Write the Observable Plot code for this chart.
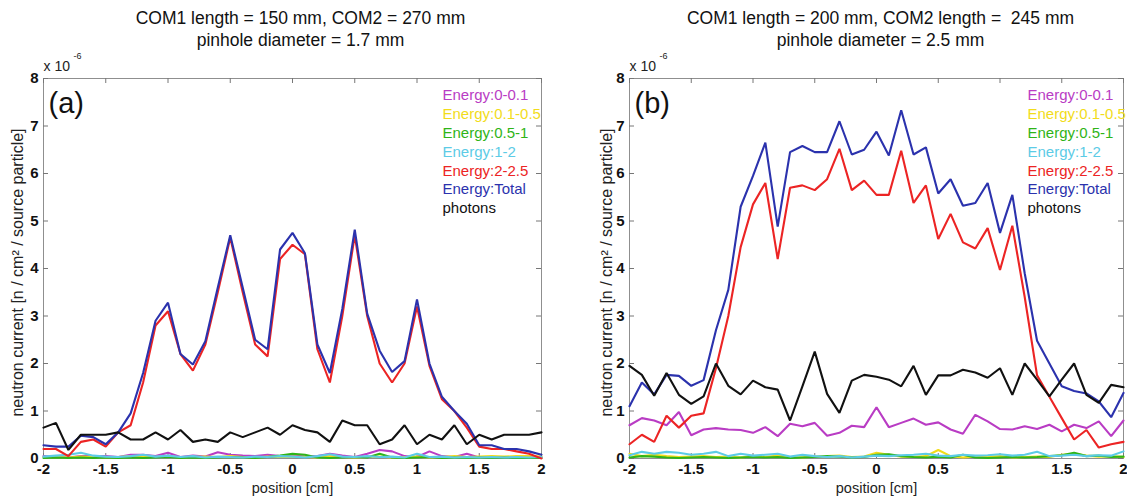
<!DOCTYPE html>
<html>
<head>
<meta charset="utf-8">
<script src="https://cdn.jsdelivr.net/npm/d3@7"></script>
<script src="https://cdn.jsdelivr.net/npm/@observablehq/plot@0.6"></script>
<style>
  body { margin: 0; background: #fff; font-family: "Liberation Sans", Arial, sans-serif; }
  #wrap { position: relative; width: 1127px; height: 499px; overflow: hidden; }
  #wrap svg { position: absolute; top: 0; overflow: visible; }
</style>
</head>
<body>
<div id="wrap"></div>
<script>
// ---------- data (values in units of 1e-6 n / cm^2 / source particle) ----------
const positions = [-2,-1.9,-1.8,-1.7,-1.6,-1.5,-1.4,-1.3,-1.2,-1.1,-1,-0.9,-0.8,-0.7,-0.6,-0.5,-0.4,-0.3,-0.2,-0.1,0,0.1,0.2,0.3,0.4,0.5,0.6,0.7,0.8,0.9,1,1.1,1.2,1.3,1.4,1.5,1.6,1.7,1.8,1.9,2];

const seriesNames = ["Energy:0-0.1","Energy:0.1-0.5","Energy:0.5-1","Energy:1-2","Energy:2-2.5","Energy:Total","photons"];
const seriesColors = ["#b93cc4","#f2dc1a","#2fb417","#5ccbe6","#ec2424","#2b32ad","#111111"];

const xTicks = [-2,-1.5,-1,-0.5,0,0.5,1,1.5,2];
const xTickLabels = ["-2","-1.5","-1","-0.5","0","0.5","1","1.5","2"];
const yTicks = [0,1,2,3,4,5,6,7,8];
const yTickLabels = ["0","1","2","3","4","5","6","7","8"];

// Panel (a)
const aE0 = [0.05,0.03,0.02,0.05,0.05,0.05,0.03,0.08,0.08,0.05,0.12,0.03,0.06,0.04,0.13,0.08,0.06,0.05,0.08,0.05,0.06,0.04,0.05,0.1,0.06,0.03,0.1,0.18,0.15,0.05,0.03,0.15,0.05,0.03,0.1,0.02,0.02,0.02,0.02,0.02,0.02];
const aE1 = [0.03,0.03,0.02,0.04,0.03,0.02,0.03,0.05,0.04,0.03,0.05,0.02,0.03,0.04,0.03,0.05,0.03,0.02,0.04,0.03,0.04,0.03,0.02,0.05,0.03,0.02,0.03,0.04,0.02,0.03,0.04,0.02,0.03,0.05,0.03,0.04,0.05,0.04,0.05,0.05,0.04];
const aE2 = [0.01,0.02,0.01,0.02,0.01,0.02,0.01,0.02,0.01,0.02,0.03,0.01,0.02,0.01,0.02,0.03,0.02,0.01,0.03,0.06,0.1,0.08,0.02,0.01,0.02,0.03,0.02,0.1,0.02,0.01,0.02,0.03,0.01,0.02,0.01,0.02,0.01,0.02,0.01,0.01,0.01];
const aE3 = [0.04,0.06,0.08,0.12,0.06,0.04,0.03,0.05,0.08,0.04,0.06,0.03,0.05,0.02,0.04,0.03,0.02,0.04,0.03,0.05,0.04,0.02,0.05,0.09,0.04,0.03,0.05,0.03,0.04,0.02,0.1,0.03,0.04,0.02,0.03,0.02,0.03,0.02,0.03,0.02,0.03];
const aE4 = [0.2,0.2,0.05,0.35,0.4,0.25,0.55,0.7,1.6,2.8,3.1,2.2,1.85,2.4,3.5,4.65,3.5,2.4,2.15,4.2,4.5,4.3,2.3,1.6,3.0,4.7,3.0,2.0,1.6,2.0,3.2,1.95,1.25,1.0,0.65,0.25,0.2,0.2,0.15,0.1,0.0];
const aTot = [0.28,0.25,0.25,0.48,0.45,0.3,0.55,0.95,1.8,2.9,3.28,2.2,1.98,2.47,3.6,4.7,3.6,2.5,2.3,4.4,4.75,4.32,2.4,1.8,3.15,4.82,3.05,2.27,1.82,2.05,3.35,2.0,1.3,1.0,0.73,0.28,0.28,0.2,0.2,0.15,0.08];
const aPho = [0.65,0.75,0.18,0.5,0.5,0.5,0.55,0.4,0.4,0.55,0.4,0.6,0.35,0.4,0.35,0.55,0.45,0.55,0.65,0.5,0.7,0.6,0.55,0.35,0.8,0.7,0.7,0.3,0.4,0.7,0.3,0.5,0.4,0.7,0.3,0.5,0.4,0.5,0.5,0.5,0.55];

// Panel (b)
const bE0 = [0.7,0.85,0.8,0.7,0.98,0.49,0.61,0.64,0.61,0.6,0.54,0.66,0.47,0.73,0.68,0.75,0.48,0.54,0.69,0.66,1.08,0.66,0.75,0.84,0.71,0.76,0.61,0.52,0.92,0.78,0.62,0.61,0.68,0.62,0.71,0.57,0.71,0.64,0.78,0.47,0.8];
const bE1 = [0.1,0.05,0.08,0.05,0.03,0.04,0.05,0.03,0.04,0.02,0.05,0.03,0.06,0.03,0.02,0.04,0.05,0.06,0.03,0.04,0.12,0.08,0.04,0.03,0.05,0.18,0.05,0.02,0.04,0.03,0.05,0.02,0.03,0.04,0.03,0.08,0.1,0.06,0.04,0.05,0.03];
const bE2 = [0.02,0.05,0.04,0.02,0.01,0.02,0.03,0.02,0.01,0.02,0.03,0.02,0.03,0.01,0.02,0.03,0.05,0.04,0.02,0.03,0.08,0.09,0.05,0.03,0.02,0.04,0.02,0.08,0.02,0.01,0.02,0.03,0.02,0.03,0.05,0.07,0.12,0.05,0.06,0.03,0.04];
const bE3 = [0.07,0.14,0.1,0.14,0.12,0.08,0.1,0.14,0.05,0.1,0.06,0.08,0.1,0.04,0.08,0.05,0.03,0.05,0.02,0.04,0.06,0.05,0.07,0.08,0.1,0.06,0.05,0.08,0.06,0.07,0.09,0.06,0.08,0.14,0.05,0.06,0.08,0.05,0.07,0.06,0.15];
const bE4 = [0.3,0.5,0.35,0.9,0.65,0.9,0.95,1.9,3.0,4.45,5.35,5.8,4.2,5.7,5.75,5.65,5.88,6.52,5.65,5.85,5.55,5.55,6.48,5.38,5.75,4.62,5.15,4.55,4.42,4.85,3.97,4.9,3.4,1.75,1.3,0.85,0.4,0.6,0.23,0.3,0.35];
const bTot = [1.1,1.6,1.35,1.76,1.74,1.53,1.65,2.7,3.55,5.3,5.95,6.65,4.88,6.45,6.58,6.45,6.45,7.1,6.4,6.5,6.88,6.38,7.33,6.4,6.55,5.58,5.88,5.32,5.38,5.8,4.75,5.55,3.9,2.48,2.0,1.52,1.42,1.37,1.2,0.87,1.38];
const bPho = [1.95,1.76,1.32,1.8,1.34,1.15,1.31,2.0,1.53,1.35,1.64,1.5,1.45,0.8,1.52,2.25,1.36,0.96,1.64,1.76,1.72,1.66,1.52,1.95,1.34,1.75,1.75,1.87,1.81,1.7,1.9,1.34,2.0,1.66,1.31,1.66,2.0,1.34,1.17,1.55,1.5];

const titlesA = ["COM1 length = 150 mm, COM2 = 270 mm", "pinhole diameter = 1.7 mm"];
const titlesB = ["COM1 length = 200 mm, COM2 length =  245 mm", "pinhole diameter = 2.5 mm"];
const xLabel = "position [cm]";
const yLabel = "neutron current [n / cm\u00B2 / source particle]";

// ---------- drawing ----------
function makePanel(cfg) {
  const rows = [];
  seriesNames.forEach((name, i) => cfg.values[i].forEach((v, j) => rows.push({name, x: positions[j], y: v})));
  const H = 499, mt = 78, mb = 41;
  const ph = H - mt - mb;
  const pw = cfg.width - cfg.ml - cfg.mr;
  const font = "Liberation Sans, Arial, sans-serif";
  const txt = (s, o) => Plot.text([s], {lineAnchor: "middle", ...o});
  const marks = [
    Plot.frame({stroke: "#8f8f8f", strokeWidth: 1}),
    Plot.tickX(xTicks, {x: d => d, insetTop: ph - 5, stroke: "#777"}),
    Plot.tickX(xTicks, {x: d => d, insetBottom: ph - 5, stroke: "#777"}),
    Plot.tickY(yTicks, {y: d => d, insetRight: pw - 5, stroke: "#777"}),
    Plot.tickY(yTicks, {y: d => d, insetLeft: pw - 5, stroke: "#777"}),
    Plot.line(rows, {x: "x", y: "y", z: "name", stroke: "name", strokeWidth: 2.1, strokeLinejoin: "miter"}),
    Plot.axisX(xTicks, {tickSize: 0, tickPadding: 5, label: null, fontSize: 15, fontWeight: "bold", tickFormat: (d, i) => xTickLabels[i]}),
    Plot.axisY(yTicks, {tickSize: 0, tickPadding: 5, label: null, fontSize: 15, fontWeight: "bold", tickFormat: (d, i) => yTickLabels[i]}),
    txt(xLabel, {frameAnchor: "bottom", dy: 30, fontSize: 14.5, fill: "#222"}),
    txt(yLabel, {frameAnchor: "left", textAnchor: "middle", dx: cfg.ylabelDx, dy: 4, rotate: -90, fontSize: 16, fill: "#222"}),
    txt(cfg.titles[0], {frameAnchor: "top", dx: cfg.titleDx, dy: -60, fontSize: 17.5, fill: "#111"}),
    txt(cfg.titles[1], {frameAnchor: "top", dx: cfg.titleDx, dy: -38, fontSize: 17.5, fill: "#111"}),
    txt("x 10", {frameAnchor: "top-left", dx: 0, dy: -12, textAnchor: "start", fontSize: 14, fill: "#222"}),
    txt("-6", {frameAnchor: "top-left", dx: 30, dy: -22, textAnchor: "start", fontSize: 9, fill: "#222"}),
    txt(cfg.tag, {frameAnchor: "top-left", dx: 5, dy: 25, textAnchor: "start", fontSize: 29, fill: "#111"}),
    ...seriesNames.map((n, i) => txt(n, {frameAnchor: "top-left", dx: cfg.legendDx, dy: 17 + i * 18.8, textAnchor: "start", fontSize: 15, fill: seriesColors[i]}))
  ];
  const svg = Plot.plot({
    width: cfg.width, height: H,
    marginTop: mt, marginBottom: mb, marginLeft: cfg.ml, marginRight: cfg.mr,
    style: {fontFamily: font, color: "#111", background: "transparent", overflow: "visible"},
    x: {domain: [-2, 2], axis: null},
    y: {domain: [0, 8], axis: null},
    color: {domain: seriesNames, range: seriesColors},
    marks
  });
  svg.style.left = cfg.left + "px";
  return svg;
}

const wrap = document.getElementById("wrap");
wrap.appendChild(makePanel({
  left: 0, width: 563, ml: 43, mr: 22,
  values: [aE0, aE1, aE2, aE3, aE4, aTot, aPho],
  titles: titlesA, titleDx: 8, tag: "(a)", legendDx: 399, ylabelDx: -26
}));
wrap.appendChild(makePanel({
  left: 563, width: 564, ml: 66, mr: 4,
  values: [bE0, bE1, bE2, bE3, bE4, bTot, bPho],
  titles: titlesB, titleDx: 4, tag: "(b)", legendDx: 398, ylabelDx: -23
}));
</script>
</body>
</html>
